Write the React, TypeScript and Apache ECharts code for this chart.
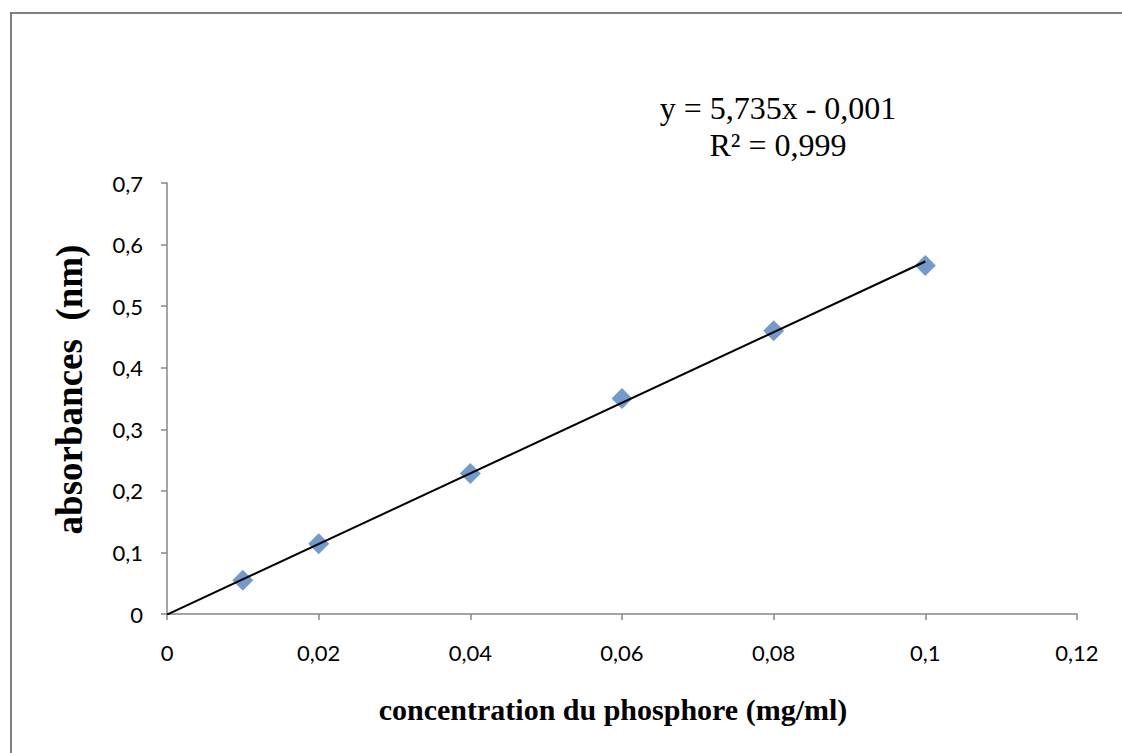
import React, { useEffect, useRef } from "react";
import * as echarts from "echarts";

const concentrations = [0.01, 0.02, 0.04, 0.06, 0.08, 0.1];
const absorbances = [0.055, 0.114, 0.228, 0.35, 0.46, 0.566];
const trendX = [0, 0.1];
const trendY = [-0.001, 0.5725];
const equationLines = ["y = 5,735x - 0,001", "R² = 0,999"];
const xTitle = "concentration du phosphore (mg/ml)";
const yTitle = "absorbances  (nm)";

const fmt = (v: number) => String(Number(v.toFixed(4))).replace(".", ",");

export default function App() {
  const ref = useRef<HTMLDivElement>(null);
  useEffect(() => {
    document.body.style.margin = "0";
    const chart = echarts.init(ref.current!, null, { renderer: "svg" });
    const tickFont = { fontFamily: "Lato, 'Open Sans', sans-serif", fontSize: 22, color: "#000" };
    chart.setOption({
      animation: false,
      backgroundColor: "#fff",
      grid: { left: 167, right: 45, top: 183, bottom: 139 },
      xAxis: {
        type: "value",
        min: 0,
        max: 0.12,
        interval: 0.02,
        name: xTitle,
        nameLocation: "middle",
        nameGap: 80,
        nameTextStyle: {
          fontFamily: "'Liberation Serif', 'Times New Roman', serif",
          fontWeight: "bold",
          fontSize: 30,
          color: "#000",
          padding: [0, 18, 0, 0],
        },
        axisLine: { lineStyle: { color: "#868686", width: 1.5 } },
        axisTick: { show: true, length: 6, lineStyle: { color: "#868686", width: 1.5 } },
        axisLabel: { ...tickFont, margin: 27, formatter: fmt },
        splitLine: { show: false },
      },
      yAxis: {
        type: "value",
        min: 0,
        max: 0.7,
        interval: 0.1,
        name: yTitle,
        nameLocation: "middle",
        nameGap: 79,
        nameTextStyle: {
          fontFamily: "'Liberation Serif', 'Times New Roman', serif",
          fontWeight: "bold",
          fontSize: 37,
          color: "#000",
          padding: [0, 0, 0, 18],
        },
        axisLine: { show: true, lineStyle: { color: "#868686", width: 1.5 } },
        axisTick: { show: true, length: 6, lineStyle: { color: "#868686", width: 1.5 } },
        axisLabel: { ...tickFont, margin: 24, formatter: fmt },
        splitLine: { show: false },
      },
      graphic: [
        {
          type: "rect",
          shape: { x: 11, y: 13, width: 1200, height: 800 },
          style: { fill: "none", stroke: "#808080", lineWidth: 2 },
          silent: true,
        },
        ...equationLines.map((t, i) => ({
          type: "text",
          x: 778,
          y: 108 + i * 37,
          style: {
            text: t,
            fontFamily: "'Liberation Serif', 'Times New Roman', serif",
            fontSize: 32,
            fill: "#000",
            textAlign: "center",
            textVerticalAlign: "middle",
          },
        })),
      ],
      series: [
        {
          type: "line",
          data: trendX.map((x, i) => [x, trendY[i]]),
          symbol: "none",
          lineStyle: { color: "#000", width: 2 },
          z: 3,
        },
        {
          type: "scatter",
          data: concentrations.map((x, i) => [x, absorbances[i]]),
          symbol: "diamond",
          symbolSize: 21,
          itemStyle: { color: "#4F81BD" },
          z: 2,
        },
      ],
    });
    return () => chart.dispose();
  }, []);
  return <div ref={ref} style={{ width: 1122, height: 753 }} />;
}
